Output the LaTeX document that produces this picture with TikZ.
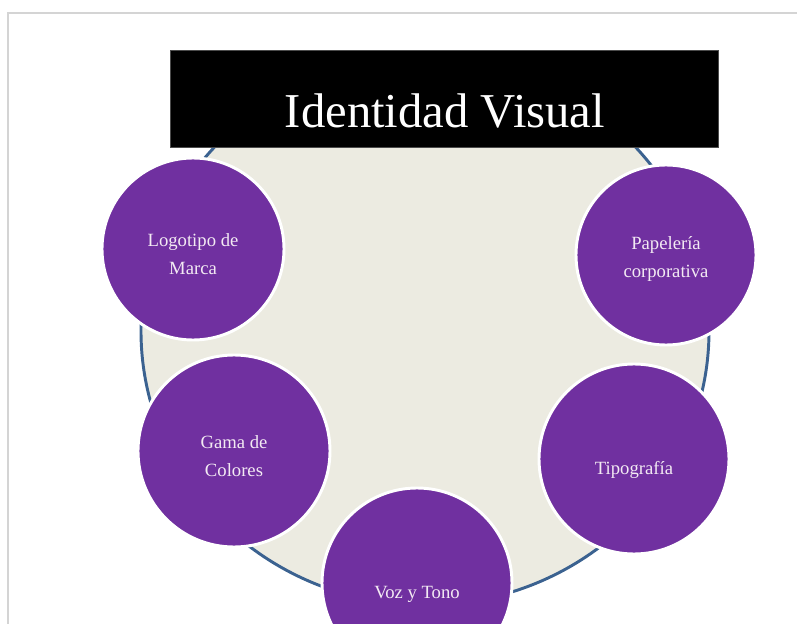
\documentclass[tikz,border=0pt]{standalone}
\usepackage{fontspec}
\setmainfont{Liberation Serif}
\usetikzlibrary{shapes.geometric}
\definecolor{vpurple}{HTML}{7030A0}
\definecolor{vbeige}{HTML}{ECEBE1}
\definecolor{vblue}{HTML}{3B6290}
\definecolor{vframe}{HTML}{D4D4D4}
\definecolor{vtext}{HTML}{F3EAF3}

\begin{document}
\begin{tikzpicture}
		[x=0.75pt, y=-0.75pt,
		base/.style ={ellipse, draw=vblue, line width=2.2pt, fill=vbeige, minimum width=426pt, minimum height=411pt},
		banner/.style ={rectangle, fill=black, draw=black!70, line width=0.4pt, minimum width=411pt, minimum height=72.75pt},
		headline/.style ={text=white, font=\fontsize{36.5}{40}\selectfont, anchor=base},
		topic/.style ={circle, draw=white, line width=2.2pt, fill=vpurple, text=vtext, inner sep=0pt, align=center,
		font=\fontsize{14}{21}\selectfont},
		lift/.style ={execute at begin node=\rule{0pt}{#1}},
		frame/.style ={draw=vframe, line width=1.5pt},
		]
		\useasboundingbox (0,0) rectangle (797,624);

		% page edge
		\draw[frame] (8,624) -- (8,13) -- (797,13);

		\draw (425,331) node[base] (disc) {};
		\draw (444,98.5) node[banner] (bar) {};
		\draw (445,128) node[headline] (title) {Identidad Visual};

		\draw (193,249) node[topic, lift=38.5pt, minimum size=136.5pt] (logo) {Logotipo de\\Marca};
		\draw (666,255) node[topic, lift=36pt, minimum size=135pt] (papel) {Papelería\\corporativa};
		\draw (234,451) node[topic, lift=39pt, minimum size=144pt] (gama) {Gama de\\Colores};
		\draw (634,459) node[topic, lift=26.5pt, minimum size=142.5pt] (tipo) {Tipografía};
		\draw (417,583) node[topic, lift=26.5pt, minimum size=142.5pt] (voz) {Voz y Tono};

	\end{tikzpicture}
\end{document}
